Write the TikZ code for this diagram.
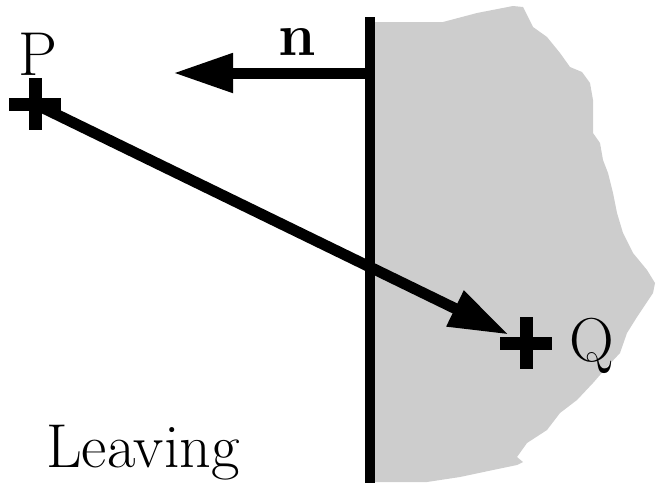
\documentclass[tikz,border=0pt]{standalone}
\usepackage{tikz}
\usetikzlibrary{arrows.meta,positioning}
\definecolor{solidGray}{RGB}{205,205,205}

\begin{document}
\begin{tikzpicture}[
  x=1pt,y=-1pt,
  lbl/.style={inner sep=0pt,anchor=base,font=\fontsize{62}{64}\selectfont},
  wall/.style={line width=10pt},
  cross/.style={line width=13pt,rounded corners=1pt},
  arrow/.style={-{Triangle[length=60pt,width=37pt]},line width=11pt}
]
  \useasboundingbox (0,0) rectangle (656,483);
  % solid on the far side of the boundary
  \fill[solidGray] (375,22) -- (443,22) -- (477,13) -- (513,6) -- (523,7)
    -- (533,27) -- (547,37) -- (560,53) -- (570,67) -- (582,72) -- (590,83)
    -- (593,100) -- (593,133) -- (600,143) -- (603,160) -- (608,173)
    -- (613,193) -- (617,213) -- (623,233) -- (633,253) -- (647,270)
    -- (655,283) -- (653,293) -- (637,317) -- (627,333) -- (620,353)
    -- (607,367) -- (593,383) -- (577,400) -- (560,413) -- (547,430)
    -- (527,443) -- (517,457) -- (523,462) -- (517,465) -- (493,470)
    -- (460,477) -- (427,482) -- (375,482) -- cycle;
  \coordinate (wallTop) at (370,17);
  \coordinate (wallBot) at (370,483);
  \coordinate (wallN) at (370,73);
  \coordinate (nTip) at (173,73);
  \coordinate (p) at (35,104);
  \coordinate (q) at (526,343);
  \draw[wall] (wallTop) -- (wallBot);
  \draw[arrow] (wallN) -- (nTip);
  \draw[arrow,shorten >=19pt] (p) -- (q);
  \draw[cross] (p) +(-26,0) -- +(26,0) (p) +(0,-26) -- +(0,26);
  \draw[cross] (q) +(-26,0) -- +(26,0) (q) +(0,-26) -- +(0,26);
  \node[lbl] (lblP) at (38,75) {P};
  \node[lbl] (lblQ) at (592,361) {Q};
  \node[lbl,font=\fontsize{60}{62}\selectfont\bfseries] (lblN) at (297,55) {n};
  \node[lbl,anchor=base west] (lblLeaving) at (46,467) {Leaving};
\end{tikzpicture}
\end{document}
